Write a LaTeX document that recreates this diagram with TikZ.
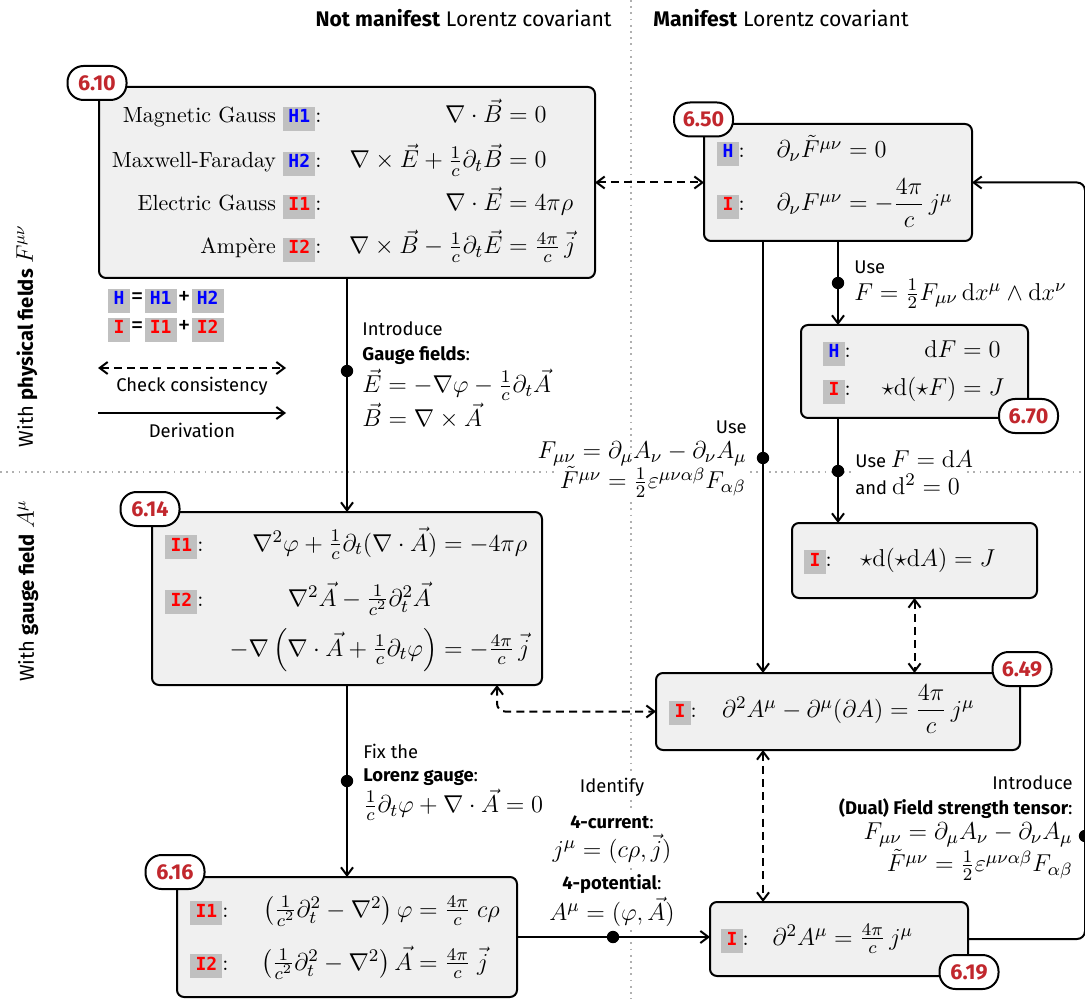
\RequirePackage{fix-cm}
\documentclass[tikz,border=0pt]{standalone}
\usepackage{amsmath}
\usepackage{fontspec}
\setsansfont{Fira Sans}[Scale=0.84]
\newfontfamily\tagfam{DejaVu Sans Mono}
\usetikzlibrary{arrows.meta}
\DeclareMathSizes{10.95}{12.2}{8.9}{6.7}
\definecolor{boxfill}{HTML}{F0F0F0}
\definecolor{tagbg}{HTML}{C0C0C0}
\definecolor{tagH}{HTML}{0000FF}
\definecolor{tagI}{HTML}{FF0000}
\definecolor{badgered}{HTML}{C1272D}
\definecolor{sepgray}{HTML}{B0B0B0}
\newcommand\nsize{\fontsize{10.95}{13}\selectfont}
\newcommand\tg[2]{{\setlength{\fboxsep}{0pt}\colorbox{tagbg}{\rule[-4pt]{0pt}{12pt}\hspace{2.6pt}{\color{#1}\tagfam\bfseries\fontsize{9}{10}\selectfont #2}\hspace{2.6pt}}}}
\newcommand\tgH[1]{\tg{tagH}{#1}}
\newcommand\tgI[1]{\tg{tagI}{#1}}
\newcommand\lgop[1]{{\fontsize{15}{17}\selectfont\hspace{0.6pt}#1\hspace{0.6pt}}}
% one equation row: width up to the '=' split, left part, lhs, rhs
\newcommand\eqrow[4]{\makebox[#1]{#2\hfill$#3$}${}#4$}
\tikzset{
  box/.style={draw, line width=1pt, rounded corners=3.5pt, fill=boxfill, inner sep=0pt, outer sep=0pt},
  badge/.style={draw, line width=1pt, rounded corners=8pt, fill=white, text=badgered, font=\fontsize{12.8}{14}\selectfont\sffamily\bfseries, minimum width=29.5pt, minimum height=17pt, inner sep=0pt},
  tx/.style={inner sep=0pt, font=\nsize, anchor=base west},
  lb/.style={inner sep=0.5pt, font=\nsize\sffamily},
  lbw/.style={inner sep=1.5pt, fill=white, font=\nsize\sffamily},
  hdr/.style={inner sep=0pt, font=\fontsize{12.6}{15}\selectfont\sffamily},
  sidelbl/.style={inner sep=0pt, font=\fontsize{12}{14}\selectfont\sffamily},
  arr/.style={line width=1pt, -{Straight Barb[length=4pt,width=6pt]}},
  darr/.style={line width=1pt, dash pattern=on 4pt off 2.6pt, {Straight Barb[length=4pt,width=6pt]}-{Straight Barb[length=4pt,width=6pt]}},
  blob/.style={circle, fill=black, inner sep=0pt, minimum size=6.2pt},
  divider/.style={draw=sepgray, line width=1pt, dash pattern=on 0.9pt off 2.2pt}
}
\begin{document}
\begin{tikzpicture}[x=0.5pt,y=-0.5pt]
\useasboundingbox (0,0) rectangle (1085,999);
% separators
\draw[divider] (631,0) -- (631,999);
\draw[divider] (0,472) -- (1085,472);
% headers
\node[hdr, anchor=east] (h1) at (612,18) {\textbf{Not manifest} Lorentz covariant};
\node[hdr, anchor=west] (h2) at (653,18) {\textbf{Manifest} Lorentz covariant};
\node[sidelbl, rotate=90] (s1) at (27,336) {With \textbf{physical fields} $F^{\mu\nu}$};
\node[sidelbl, rotate=90] (s2) at (28,591) {With \textbf{gauge field} $A^{\mu}$};
% boxes
\node[box, minimum width=248pt, minimum height=95.5pt] (b610) at (347,182.5) {};
\node[box, minimum width=134pt, minimum height=58.5pt] (b650) at (838,182.5) {};
\node[box, minimum width=113.5pt, minimum height=46.5pt] (b670) at (914.5,371.5) {};
\node[box, minimum width=122.5pt, minimum height=37.5pt] (bdA) at (914.5,560.5) {};
\node[box, minimum width=182pt, minimum height=38.5pt] (b649) at (838,711.5) {};
\node[box, minimum width=195pt, minimum height=86.5pt] (b614) at (347,598.5) {};
\node[box, minimum width=170pt, minimum height=60pt] (b616) at (347,937) {};
\node[box, minimum width=129pt, minimum height=37pt] (b619) at (839,939) {};
% box 6.10
\node[tx] (a1) at (81,123) {\eqrow{210.5pt}{\makebox[120pt][r]{Magnetic Gauss \tgH{H1}:}}{\nabla\cdot\vec B}{=0}};
\node[tx] (a2) at (81,168) {\eqrow{210.5pt}{\makebox[120pt][r]{Maxwell-Faraday \tgH{H2}:}}{\nabla\times\vec E+\frac{1}{c}\partial_t\vec B}{=0}};
\node[tx] (a3) at (81,211) {\eqrow{210.5pt}{\makebox[120pt][r]{Electric Gauss \tgI{I1}:}}{\nabla\cdot\vec E}{=4\pi\rho}};
\node[tx] (a4) at (81,254) {\eqrow{210.5pt}{\makebox[120pt][r]{Ampère \tgI{I2}:}}{\nabla\times\vec B-\frac{1}{c}\partial_t\vec E}{=\frac{4\pi}{c}\,\vec{j}}};
% box 6.50
\node[tx] (c1) at (717,158) {\eqrow{62.5pt}{\tgH{H}:}{\partial_\nu\tilde F^{\mu\nu}}{=0}};
\node[tx] (c2) at (717,211) {\eqrow{62.5pt}{\tgI{I}:}{\partial_\nu F^{\mu\nu}}{=-\dfrac{4\pi}{c}\,j^\mu}};
% box 6.70
\node[tx] (e1) at (823,358) {\eqrow{66.5pt}{\tgH{H}:}{\mathrm{d}F}{=0}};
\node[tx] (e2) at (823,396) {\eqrow{66.5pt}{\tgI{I}:}{\star\mathrm{d}(\star F)}{=J}};
% box star d star dA
\node[tx] (f1) at (804,566) {\eqrow{71.5pt}{\tgI{I}:}{\star\mathrm{d}(\star\mathrm{d}A)}{=J}};
% box 6.49
\node[tx] (g1) at (669,717) {\eqrow{107pt}{\tgI{I}:}{\partial^2A^\mu-\partial^\mu(\partial A)}{=\dfrac{4\pi}{c}\,j^\mu}};
% box 6.19
\node[tx] (k1) at (721,945) {\eqrow{53pt}{\tgI{I}:}{\partial^2A^\mu}{=\frac{4\pi}{c}\,j^\mu}};
% box 6.14
\node[tx] (m1) at (165,551) {\eqrow{136pt}{\tgI{I1}:}{\nabla^2\varphi+\frac{1}{c}\partial_t(\nabla\cdot\vec A)}{=-4\pi\rho}};
\node[tx] (m2) at (165,606) {\makebox[97pt][l]{\tgI{I2}:}\makebox[0pt]{$\nabla^2\vec A-\frac{1}{c^2}\partial_t^2\vec A$}};
\node[tx] (m3) at (165,656) {\eqrow{136pt}{}{-\nabla\left(\nabla\cdot\vec A+\frac{1}{c}\partial_t\varphi\right)}{=-\frac{4\pi}{c}\,\vec{j}}};
% box 6.16
\node[tx] (p1) at (190,917) {\eqrow{111pt}{\tgI{I1}:}{\left(\frac{1}{c^2}\partial_t^2-\nabla^2\right)\varphi}{=\frac{4\pi}{c}\;c\rho}};
\node[tx] (p2) at (190,970) {\eqrow{111pt}{\tgI{I2}:}{\left(\frac{1}{c^2}\partial_t^2-\nabla^2\right)\vec A}{=\frac{4\pi}{c}\;\vec{j}}};
% legend
\node[tx, font=\nsize\sffamily] (lgH) at (108,305) {\tgH{H}\lgop{=}\tgH{H1}\lgop{+}\tgH{H2}};
\node[tx, font=\nsize\sffamily] (lgI) at (108,334) {\tgI{I}\lgop{=}\tgI{I1}\lgop{+}\tgI{I2}};
\coordinate (lda) at (98,368);
\coordinate (ldb) at (286,368);
\coordinate (lsa) at (98,413);
\coordinate (lsb) at (286,413);
\draw[darr] (lda) -- (ldb);
\draw[arr] (lsa) -- (lsb);
\node[lb] (lgc) at (192,386) {Check consistency};
\node[lb] (lgd) at (192,430) {Derivation};
% labels
\node[lb, anchor=west] (q1) at (361,329) {Introduce};
\node[lb, anchor=west] (q2) at (361,356) {\textbf{Gauge fields}:};
\node[lb, anchor=west] (q3) at (361,385) {$\vec E=-\nabla\varphi-\frac{1}{c}\partial_t\vec A$};
\node[lb, anchor=west] (q4) at (361,416) {$\vec B=\nabla\times\vec A$};
\node[lb, anchor=west] (u1) at (362,751) {Fix the};
\node[lb, anchor=west] (u2) at (362,777) {\textbf{Lorenz gauge}:};
\node[lb, anchor=west] (u3) at (362,805) {$\frac{1}{c}\partial_t\varphi+\nabla\cdot\vec A=0$};
\node[lbw] (v5) at (612,912) {$A^\mu=(\varphi,\vec A)$};
\node[lbw] (v4) at (612,884) {\textbf{4-potential}:};
\node[lbw] (v3) at (612,849) {$j^\mu=(c\rho,\vec{j})$};
\node[lbw] (v2) at (612,822) {\textbf{4-current}:};
\node[lbw] (v1) at (612,787) {Identify};
\node[lb, anchor=west] (w1) at (853,267) {Use};
\node[lb, anchor=west] (w2) at (853,294) {$F=\frac{1}{2}F_{\mu\nu}\,\mathrm{d}x^\mu\wedge\mathrm{d}x^\nu$};
\node[lbw, anchor=west] (x2) at (852,484) {and $\mathrm{d}^2=0$};
\node[lbw, anchor=west] (x1) at (852,459) {Use $F=\mathrm{d}A$};
\node[lbw, anchor=east] (y3) at (749,482) {$\tilde F^{\mu\nu}=\frac{1}{2}\varepsilon^{\mu\nu\alpha\beta}F_{\alpha\beta}$};
\node[lb, anchor=east] (y2) at (748,454) {$F_{\mu\nu}=\partial_\mu A_\nu-\partial_\nu A_\mu$};
\node[lb, anchor=east] (y1) at (748,427) {Use};
\node[lb, anchor=east] (z1) at (1074,783) {Introduce};
\node[lb, anchor=east] (z2) at (1074,809) {\textbf{(Dual) Field strength tensor}:};
\node[lb, anchor=east] (z3) at (1074,835) {$F_{\mu\nu}=\partial_\mu A_\nu-\partial_\nu A_\mu$};
\node[lb, anchor=east] (z4) at (1074,865) {$\tilde F^{\mu\nu}=\frac{1}{2}\varepsilon^{\mu\nu\alpha\beta}F_{\alpha\beta}$};
% helper coordinates
\coordinate (cL) at (763,0);
\coordinate (cA) at (497,0);
\coordinate (cR) at (1085,500);
% connectors
\draw[arr] (b610.south) -- (b614.north);
\draw[arr] (b614.south) -- (b616.north);
\draw[arr] (b616.east) -- (b616.east -| b619.west);
\draw[arr] (b650.south) -- (b650.south |- b670.north);
\draw[arr] (b670.south -| b650.south) -- (bdA.north -| b650.south);
\draw[arr] (b650.south -| cL) -- (b649.north -| cL);
\draw[darr] (b610.east) -- (b650.west);
\draw[darr] (bdA.south) -- (bdA.south |- b649.north);
\draw[darr] (b649.south -| cL) -- (b619.north -| cL);
\draw[darr, rounded corners=4pt] (b614.south -| cA) |- (b649.west);
\draw[arr, rounded corners=4pt] (b619.east) -| (cR) |- (b650.east);
% dots
\node[blob] (d1) at (347,371) {};
\node[blob] (d2) at (347,781) {};
\node[blob] (d3) at (613,937) {};
\node[blob] (d4) at (838,283) {};
\node[blob] (d5) at (838,471) {};
\node[blob] (d6) at (763,458) {};
\node[blob] (d7) at (1085,836) {};
% badges
\node[badge] (n610) at (97,83) {6.10};
\node[badge] (n650) at (703.5,119.5) {6.50};
\node[badge] (n670) at (1028.5,416) {6.70};
\node[badge] (n649) at (1022,669) {6.49};
\node[badge] (n614) at (150,509) {6.14};
\node[badge] (n616) at (175,872) {6.16};
\node[badge] (n619) at (969,972) {6.19};
\end{tikzpicture}
\end{document}
